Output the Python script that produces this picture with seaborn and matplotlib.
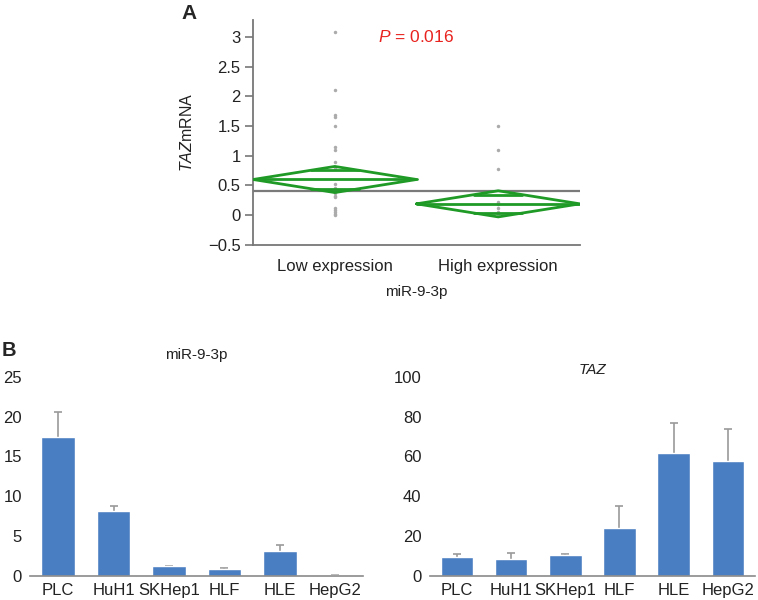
import numpy as np
import pandas as pd
import seaborn as sns
import matplotlib.pyplot as plt

sns.set_style("white")
plt.rcParams['font.family'] = ['Liberation Sans', 'DejaVu Sans']
plt.rcParams['mathtext.fontset'] = 'custom'
plt.rcParams['mathtext.rm'] = 'Liberation Sans'
plt.rcParams['mathtext.it'] = 'Liberation Sans:italic'

## 数据 (A)
groups = ["Low expression", "High expression"]
low_vals = [3.08, 2.1, 1.68, 1.65, 1.5, 1.15, 1.1, 0.9, 0.8, 0.52, 0.45, 0.4,
            0.37, 0.33, 0.3, 0.12, 0.08, 0.05, 0.02, 0.0]
high_vals = [1.5, 1.1, 0.78, 0.22, 0.18, 0.12, 0.05, 0.02]
group_mean = [0.60, 0.19]
ci_low = [0.38, -0.03]
ci_high = [0.82, 0.41]
grand_mean = 0.40

## 数据 (B)
cells = ["PLC", "HuH1", "SKHep1", "HLF", "HLE", "HepG2"]
mir_vals = [17.4, 8.1, 1.2, 0.85, 3.1, 0.1]
mir_err = [3.2, 0.7, 0.1, 0.1, 0.75, 0.05]
taz_vals = [9.5, 8.5, 10.5, 24.0, 61.5, 57.5]
taz_err = [1.3, 3.0, 0.5, 11.0, 15.5, 16.5]

green = "#1f9a26"
blue = "#4a7ec2"

fig = plt.figure(figsize=(7.58, 6.0), dpi=100)

# ---- panel A: means diamonds
ax = fig.add_axes([0.334, 0.592, 0.431, 0.375])
df_a = pd.DataFrame({
    "group": [groups[0]] * len(low_vals) + [groups[1]] * len(high_vals),
    "value": low_vals + high_vals,
})
sns.stripplot(data=df_a, x="group", y="value", order=groups, jitter=False,
              color="#ababab", size=2.5, ax=ax, zorder=2)
ax.axhline(grand_mean, color="#7a7a7a", lw=1.6, zorder=3)
for i in range(len(groups)):
    m, lo, hi = group_mean[i], ci_low[i], ci_high[i]
    ax.plot([i - 0.5, i, i + 0.5, i, i - 0.5], [m, hi, m, lo, m],
            color=green, lw=2, zorder=4, solid_joinstyle="miter")
    ax.plot([i - 0.5, i + 0.5], [m, m], color=green, lw=2, zorder=4)
    # overlap marks
    d = (hi - m) / np.sqrt(2)
    w = 0.5 * (1 - d / (hi - m))
    for yy in (m + d, m - d):
        ax.plot([i - w, i + w], [yy, yy], color=green, lw=2, zorder=4)
ax.set_xlim(-0.5, 1.5)
ax.set_ylim(-0.5, 3.29)
ax.set_yticks([-0.5, 0, 0.5, 1, 1.5, 2, 2.5, 3])
ax.set_yticklabels(["\u22120.5", "0", "0.5", "1", "1.5", "2", "2.5", "3"])
ax.set_xticks([0, 1])
ax.set_xticklabels(groups)
ax.set_xticks([0.5], minor=True)
ax.tick_params(axis="x", which="major", length=0, pad=10, labelsize=12, colors="#222222")
ax.tick_params(axis="x", which="minor", length=5, width=1.2, color="#777777", direction="out")
ax.tick_params(axis="y", length=6, width=1.2, color="#777777", pad=3, labelsize=12,
               labelcolor="#222222", left=True)
for s in ["top", "right"]:
    ax.spines[s].set_visible(False)
for s in ["left", "bottom"]:
    ax.spines[s].set_color("#777777")
    ax.spines[s].set_linewidth(1.3)
ax.set_xlabel("miR-9-3p", fontsize=11, labelpad=8, color="#222222")
ax.set_ylabel(r"$\it{TAZ}$mRNA", fontsize=11.5, labelpad=9, color="#222222")
ax.text(0.5, 3.0, r"$\it{P}$ = 0.016", color="#e8231f", fontsize=12.5,
        ha="center", va="center")
fig.text(0.239, 0.978, "A", fontsize=15, fontweight="bold", va="center", ha="left")

# ---- panel B: bar charts
df_b = pd.DataFrame({"cell": cells, "mir": mir_vals, "taz": taz_vals})


def bar_panel(rect, col, err, ymax, step, title, italic, pad, tpad):
    bx = fig.add_axes(rect)
    sns.barplot(data=df_b, x="cell", y=col, order=cells, color=blue,
                saturation=1, width=0.6, ax=bx, zorder=2)
    eb = bx.errorbar(np.arange(len(cells)), df_b[col],
                     yerr=[np.zeros(len(err)), err], fmt="none",
                     ecolor="#9a9a9a", elinewidth=1.2, capsize=3,
                     capthick=1.2, zorder=1)
    eb[1][0].set_visible(False)  # 只保留上方的横线
    bx.set_xlim(-0.5, len(cells) - 0.5)
    bx.set_ylim(0, ymax)
    bx.set_yticks(np.arange(0, ymax + 1, step))
    bx.tick_params(axis="y", length=0, pad=pad, labelsize=12, labelcolor="#222222")
    bx.tick_params(axis="x", length=0, pad=5, labelsize=12, labelcolor="#222222")
    for s in ["top", "right", "left"]:
        bx.spines[s].set_visible(False)
    bx.spines["bottom"].set_color("#8a8a8a")
    bx.spines["bottom"].set_linewidth(1.2)
    bx.set_xlabel("")
    bx.set_ylabel("")
    bx.set_title(title, fontsize=11, fontstyle="italic" if italic else "normal",
                 pad=tpad, color="#222222")
    return bx


bar_panel([0.040, 0.04, 0.439, 0.332], "mir", mir_err, 25, 5, "miR-9-3p", False, 6, 13)
bar_panel([0.567, 0.04, 0.429, 0.332], "taz", taz_err, 100, 20, "TAZ", True, 6, 2)
fig.text(0.002, 0.415, "B", fontsize=14.5, fontweight="bold", va="center", ha="left")

fig.savefig("out.png", dpi=100)
